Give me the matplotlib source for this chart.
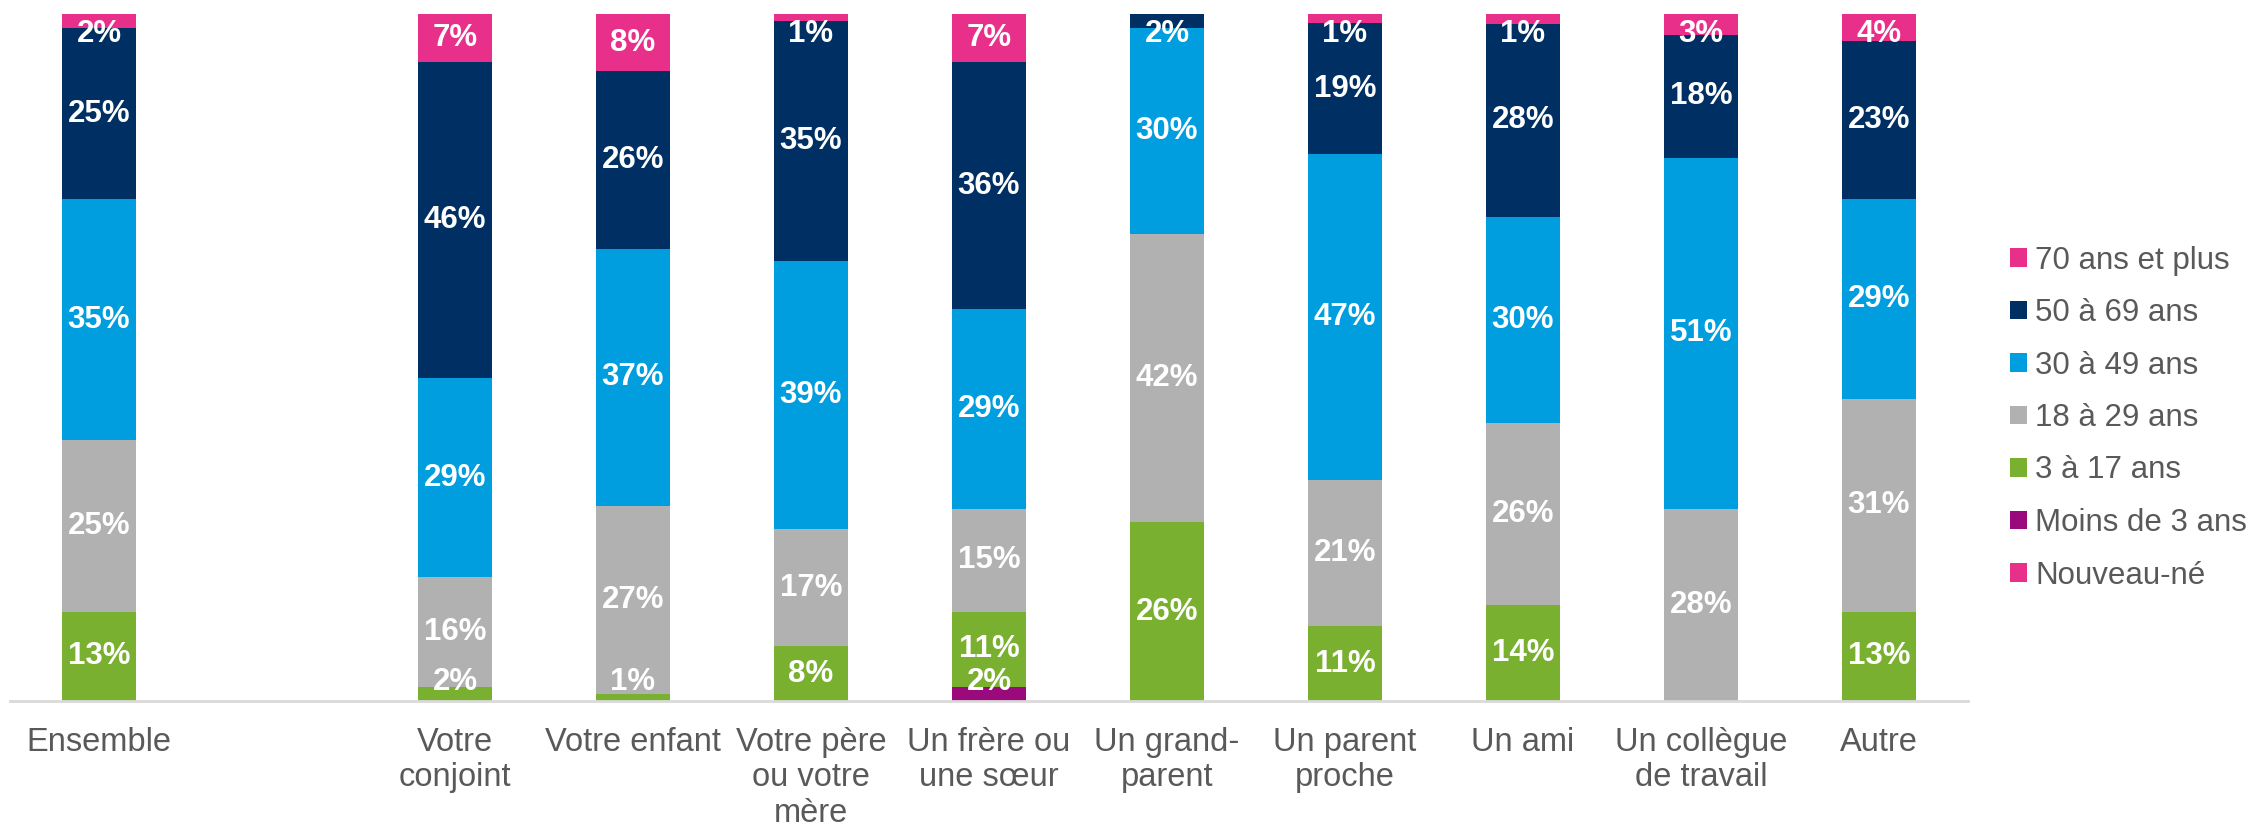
import numpy as np
import matplotlib.pyplot as plt
from matplotlib.patches import Patch

# Categories (slot 1 stays empty, as in the original layout).
categories = ['Ensemble', 'Votre\nconjoint', 'Votre enfant', 'Votre père\nou votre\nmère',
              'Un frère ou\nune sœur', 'Un grand-\nparent', 'Un parent\nproche', 'Un ami',
              'Un collègue\nde travail', 'Autre']
positions = [0, 2, 3, 4, 5, 6, 7, 8, 9, 10]

# Series, bottom to top of each stack (percent).
series_names = ['Nouveau-né', 'Moins de 3 ans', '3 à 17 ans', '18 à 29 ans',
                '30 à 49 ans', '50 à 69 ans', '70 ans et plus']
nouveau_ne = [0, 0, 0, 0, 0, 0, 0, 0, 0, 0]
moins_3 = [0, 0, 0, 0, 2, 0, 0, 0, 0, 0]
ans_3_17 = [13, 2, 1.0, 8, 11, 26, 10.9, 14.0, 0, 13]
ans_18_29 = [25, 16, 27.4, 17, 15, 42, 21.3, 26.4, 28, 31]
ans_30_49 = [35, 29, 37.4, 39, 29, 30, 47.4, 30.0, 51, 29]
ans_50_69 = [25, 46, 25.9, 35, 36, 2, 19.1, 28.2, 18, 23]
ans_70_plus = [2, 7, 8.3, 1, 7, 0, 1.3, 1.4, 3, 4]

colors = ['#E8308A', '#9B0A7D', '#7AB030', '#B1B1B2', '#009EDF', '#003063', '#E8308A']

plt.rcParams['font.family'] = ['Liberation Sans', 'DejaVu Sans']

fig = plt.figure(figsize=(22.52, 8.26), dpi=100)
ax = fig.add_axes([10 / 2252, 1 - 701 / 826, 1958 / 2252, 687 / 826])

data = [nouveau_ne, moins_3, ans_3_17, ans_18_29, ans_30_49, ans_50_69, ans_70_plus]
bottom = np.zeros(len(categories))
for name, vals, col in zip(series_names, data, colors):
    vals = np.array(vals, dtype=float)
    ax.bar(positions, vals, width=0.42, bottom=bottom, color=col, label=name)
    for x, b, v in zip(positions, bottom, vals):
        if v <= 0:
            continue
        # keep labels inside the plot area, like the original
        yc = min(max(b + v / 2, 2.7), 97.1)
        ax.text(x, yc, '{:.0f}%'.format(v), ha='center', va='center',
                color='white', fontsize=22.5, fontweight='bold')
    bottom += vals

ax.set_xlim(-0.5, 10.5)
ax.set_ylim(0, 100)
ax.set_xticks(positions)
ax.set_xticklabels(categories, fontsize=23.5, color='#595959', linespacing=1.17, va='top')
ax.tick_params(axis='x', length=0, pad=19)
ax.set_yticks([])
for side in ['left', 'right', 'top']:
    ax.spines[side].set_visible(False)
ax.spines['bottom'].set_color('#D9D9D9')
ax.spines['bottom'].set_linewidth(2)

# Legend (top to bottom = reverse stacking order).
handles = [Patch(facecolor=c, edgecolor='none') for c in colors[::-1]]
fig.legend(handles, series_names[::-1], loc='center left',
           bbox_to_anchor=(2010 / 2252, 1 - 418 / 826), frameon=False,
           fontsize=22.5, labelcolor='#595959', handlelength=0.55, handleheight=0.55,
           handletextpad=0.25, labelspacing=0.72, borderpad=0, borderaxespad=0)

fig.savefig('out.png', dpi=100)
